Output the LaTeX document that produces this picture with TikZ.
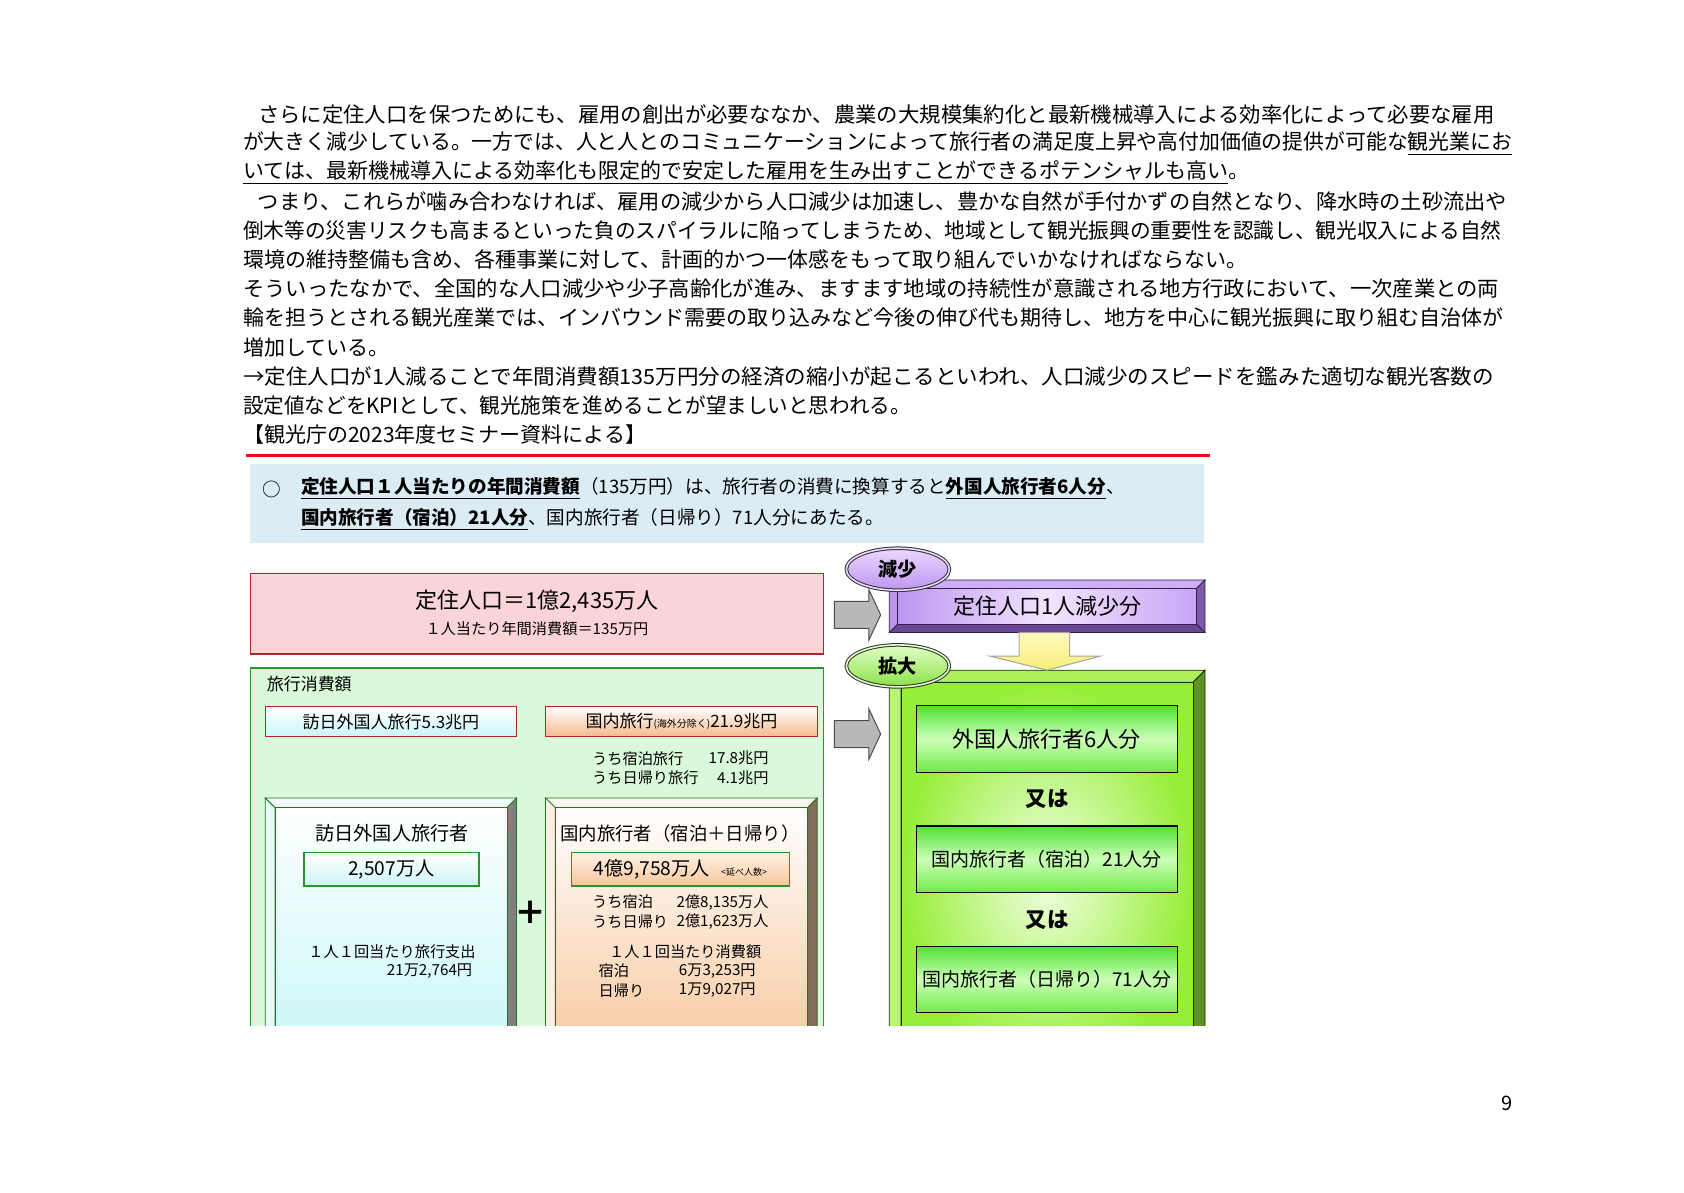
\documentclass[tikz,border=0pt]{standalone}
\usepackage{fontspec}
\setmainfont{Noto Sans CJK JP}
\usepackage{tikz}
\usetikzlibrary{positioning,fit,shapes.geometric}

\definecolor{redrule}{RGB}{220,20,20}
\definecolor{notefill}{RGB}{220,236,244}
\definecolor{popfill}{RGB}{250,212,216}
\definecolor{popdraw}{RGB}{170,40,40}
\definecolor{spendfill}{RGB}{218,248,218}
\definecolor{spenddraw}{RGB}{40,150,40}
\definecolor{cyanface}{RGB}{196,246,248}
\definecolor{peachface}{RGB}{248,196,150}
% bevel colours: T top, L left, R right, B bottom, O outline
\definecolor{cyanT}{RGB}{240,252,252}
\definecolor{cyanL}{RGB}{232,250,250}
\definecolor{cyanR}{RGB}{128,128,128}
\definecolor{cyanB}{RGB}{150,150,150}
\definecolor{cyanO}{RGB}{30,120,30}
\definecolor{peachT}{RGB}{252,246,238}
\definecolor{peachL}{RGB}{250,240,230}
\definecolor{peachR}{RGB}{128,110,90}
\definecolor{peachB}{RGB}{150,130,110}
\definecolor{peachO}{RGB}{30,120,30}
\definecolor{purpT}{RGB}{205,175,245}
\definecolor{purpL}{RGB}{185,150,235}
\definecolor{purpR}{RGB}{125,90,170}
\definecolor{purpB}{RGB}{105,70,150}
\definecolor{purpO}{RGB}{50,30,70}
\definecolor{limeT}{RGB}{175,240,90}
\definecolor{limeL}{RGB}{185,245,105}
\definecolor{limeR}{RGB}{95,145,35}
\definecolor{limeB}{RGB}{80,130,30}
\definecolor{limeO}{RGB}{20,50,10}

\newcommand{\bevelframe}[6]{%
  \filldraw[draw=#6O, fill=#6T] (#1,#2) -- (#3,#2) -- (#3-#5,#2+#5) -- (#1+#5,#2+#5) -- cycle;
  \filldraw[draw=#6O, fill=#6L] (#1,#2) -- (#1+#5,#2+#5) -- (#1+#5,#4-#5) -- (#1,#4) -- cycle;
  \filldraw[draw=#6O, fill=#6R] (#3,#2) -- (#3,#4) -- (#3-#5,#4-#5) -- (#3-#5,#2+#5) -- cycle;
  \filldraw[draw=#6O, fill=#6B] (#1,#4) -- (#3,#4) -- (#3-#5,#4-#5) -- (#1+#5,#4-#5) -- cycle;
}

\tikzset{
    paraline/.style={anchor=west, inner sep=0pt, font=\fontsize{10.5}{13}\selectfont},
    notetext/.style={anchor=west, inner sep=0pt, font=\fontsize{9.3}{11}\selectfont},
    plain/.style={inner sep=0pt, font=\fontsize{8.5}{10}\selectfont},
    small/.style={inner sep=0pt, font=\fontsize{7.6}{9}\selectfont},
    title/.style={inner sep=0pt, font=\fontsize{9.6}{11}\selectfont},
    big/.style={inner sep=0pt, font=\fontsize{11}{13}\selectfont},
    sumbox/.style={inner sep=0pt, draw=popdraw, line width=0.6pt},
    countbox/.style={inner sep=0pt, draw=spenddraw, line width=0.6pt},
    optionbox/.style={inner sep=0pt, draw=black, line width=0.6pt, top color={rgb,255:red,80;green,225;blue,50}, bottom color={rgb,255:red,110;green,235;blue,70}, middle color={rgb,255:red,205;green,255;blue,185}},
    badge/.style={ellipse, inner sep=0pt, minimum width=51.5pt, minimum height=21pt, draw=black!80, double distance=0.8pt, line width=0.5pt, font=\bfseries\fontsize{9.6}{11}\selectfont},
    grayarrow/.style={draw=black!70, fill=black!28, line width=0.5pt},
}

\begin{document}
\begin{tikzpicture}[x=0.537pt, y=-0.537pt]
\useasboundingbox (0,0) rectangle (1568,1110);

% text above the diagram
\foreach \y/\sx/\txt [count=\i] in {
  107/1.018/{\hspace*{0.7em}さらに定住人口を保つためにも、雇用の創出が必要ななか、農業の大規模集約化と最新機械導入による効率化によって必要な雇用},
  134/0.993/{が大きく減少している。一方では、人と人とのコミュニケーションによって旅行者の満足度上昇や高付加価値の提供が可能な\underline{観光業にお}},
  161/1/{\underline{いては、最新機械導入による効率化も限定的で安定した雇用を生み出すことができるポテンシャルも高い}。},
  188/1.01/{\hspace*{0.7em}つまり、これらが噛み合わなければ、雇用の減少から人口減少は加速し、豊かな自然が手付かずの自然となり、降水時の土砂流出や},
  215/0.984/{倒木等の災害リスクも高まるといった負のスパイラルに陥ってしまうため、地域として観光振興の重要性を認識し、観光収入による自然},
  242/1/{環境の維持整備も含め、各種事業に対して、計画的かつ一体感をもって取り組んでいかなければならない。},
  269/1.016/{そういったなかで、全国的な人口減少や少子高齢化が進み、ますます地域の持続性が意識される地方行政において、一次産業との両},
  296/1/{輪を担うとされる観光産業では、インバウンド需要の取り込みなど今後の伸び代も期待し、地方を中心に観光振興に取り組む自治体が},
  324/1/{増加している。},
  351/1.024/{→定住人口が1人減ることで年間消費額135万円分の経済の縮小が起こるといわれ、人口減少のスピードを鑑みた適切な観光客数の},
  378/0.98/{設定値などをKPIとして、観光施策を進めることが望ましいと思われる。},
  405/1/{【観光庁の2023年度セミナー資料による】}}
    \node[paraline] (line\i) at (226,\y) {\scalebox{\sx}[1]{\txt}};

\coordinate (rule west) at (229,424);
\coordinate (rule east) at (1127,424);
\draw[redrule, line width=1.6pt] (rule west) -- (rule east);

% summary note
\node[fill=notefill, inner sep=0pt, fit={(233,432)(1121,506)}] (note) {};
\node[notetext] (bullet) at (244,456) {○};
\node[notetext] (note1) at (280,455) {\textbf{\underline{定住人口１人当たりの年間消費額}}（135万円）は、旅行者の消費に換算すると\textbf{\underline{外国人旅行者6人分}}、};
\node[notetext] (note2) at (280,484) {\textbf{\underline{国内旅行者（宿泊）21人分}}、国内旅行者（日帰り）71人分にあたる。};

% resident population
\node[fill=popfill, draw=popdraw, line width=0.6pt, inner sep=0pt, fit={(233,534)(767,609)}] (pop) {};
\node[big] (popnum) at (500,560) {定住人口＝1億2,435万人};
\node[small] (popspend) at (500,585) {１人当たり年間消費額＝135万円};

\begin{scope}
\clip (0,0) rectangle (1568,955);
% travel spending
\node[fill=spendfill, draw=spenddraw, line width=0.6pt, inner sep=0pt, fit={(233,622)(767,1010)}] (spend) {};
\node[plain, anchor=west] (spendtitle) at (248,637) {旅行消費額};
\node[sumbox, top color=white, bottom color={rgb,255:red,200;green,245;blue,250}, fit={(247,658)(481,686)}] (inbound) {};
\node[plain] (inboundtext) at (inbound) {訪日外国人旅行5.3兆円};
\node[sumbox, top color=white, bottom color={rgb,255:red,245;green,185;blue,140}, fit={(508,658)(761,686)}] (domestic) {};
\node[plain] (domestictext) at (domestic) {国内旅行{\fontsize{5}{6}\selectfont (海外分除く)}21.9兆円};
\node[small, anchor=west] (stay) at (551,706) {うち宿泊旅行};
\node[small, anchor=east] (stayval) at (716,706) {17.8兆円};
\node[small, anchor=west] (day) at (551,724) {うち日帰り旅行};
\node[small, anchor=east] (dayval) at (716,724) {4.1兆円};

% foreign visitors
\bevelframe{247}{743}{481}{1010}{9}{cyan}
\node[draw=cyanO, inner sep=0pt, top color=white, bottom color=cyanface, fit={(256,752)(472,1001)}] (visface) {};
\node[title] (vistitle) at (365,776) {訪日外国人旅行者};
\node[countbox, top color=white, bottom color={rgb,255:red,205;green,245;blue,245}, fit={(283,794)(446,825)}] (viscount) {};
\node[title] (viscounttext) at (viscount) {2,507万人};
\node[small] (visspend) at (365,886) {１人１回当たり旅行支出};
\node[small, anchor=east] (visval) at (440,904) {21万2,764円};

\node[inner sep=0pt, font=\bfseries\fontsize{16}{16}\selectfont] (plus) at (494,850) {＋};

% domestic travellers
\bevelframe{508}{743}{761}{1010}{9}{peach}
\node[draw=peachO, inner sep=0pt, top color=white, bottom color=peachface, fit={(517,752)(752,1001)}] (domface) {};
\node[title, font=\fontsize{9.2}{11}\selectfont] (domtitle) at (633,776) {国内旅行者（宿泊＋日帰り）};
\node[countbox, top color={rgb,255:red,255;green,242;blue,228}, bottom color={rgb,255:red,248;green,198;blue,155}, fit={(532,794)(735,825)}] (domcount) {};
\node[title] (domcounttext) at (domcount) {4億9,758万人\hspace{0.6em}{\fontsize{4.5}{5}\selectfont <延べ人数>}};
\node[small, anchor=west] (domstay) at (551,840) {うち宿泊};
\node[small, anchor=east] (domstayval) at (716,840) {2億8,135万人};
\node[small, anchor=west] (domday) at (551,858) {うち日帰り};
\node[small, anchor=east] (domdayval) at (716,858) {2億1,623万人};
\node[small] (domspend) at (638,886) {１人１回当たり消費額};
\node[small, anchor=west] (stayspend) at (557,904) {宿泊};
\node[small, anchor=east] (stayspendval) at (704,904) {6万3,253円};
\node[small, anchor=west] (dayspend) at (557,922) {日帰り};
\node[small, anchor=east] (dayspendval) at (704,922) {1万9,027円};

% equivalent visitors
\bevelframe{828}{624}{1122}{1010}{11}{lime}
\node[draw=limeO, inner sep=0pt, inner color={rgb,255:red,240;green,255;blue,225}, outer color={rgb,255:red,150;green,238;blue,55}, fit={(839,635)(1111,1000)}] (gainface) {};
\foreach \t/\fs/\txt [count=\k] in {657/11/{外国人旅行者6人分}, 769/9.5/{国内旅行者（宿泊）21人分}, 881/9.5/{国内旅行者（日帰り）71人分}} {
    \node[optionbox, fit={(853,\t)(1096,\t+62)}] (option\k) {};
    \node[inner sep=0pt, font=\fontsize{\fs}{13}\selectfont] (optiontext\k) at (option\k) {\txt};
}
\node[inner sep=0pt, font=\bfseries\fontsize{10.7}{12}\selectfont] (or1) at (975,744) {又は};
\node[inner sep=0pt, font=\bfseries\fontsize{10.7}{12}\selectfont] (or2) at (975,857) {又は};
\end{scope}

% one resident less
\bevelframe{828}{540}{1122}{589}{8}{purp}
\node[draw=purpO, inner sep=0pt, left color={rgb,255:red,190;green,150;blue,240}, right color={rgb,255:red,200;green,165;blue,245}, middle color={rgb,255:red,242;green,228;blue,255}, fit={(836,548)(1114,581)}] (cut) {};
\node[big] (cuttext) at (cut) {定住人口1人減少分};

% block arrows
\coordinate (arrow1) at (777,560);
\filldraw[grayarrow] (arrow1) -- ++(32,0) -- ++(0,-11) -- ++(11,23.5) -- ++(-11,23.5) -- ++(0,-11) -- ++(-32,0) -- cycle;
\coordinate (arrow2) at (777,671);
\filldraw[grayarrow] (arrow2) -- ++(32,0) -- ++(0,-11) -- ++(11,23.5) -- ++(-11,23.5) -- ++(0,-11) -- ++(-32,0) -- cycle;
\coordinate (down) at (949,589);
\filldraw[draw=black!35, line width=0.5pt, top color={rgb,255:red,255;green,250;blue,190}, bottom color={rgb,255:red,248;green,238;blue,120}] (down) -- ++(47,0) -- ++(0,22) -- ++(28,0) -- ++(-49,13) -- ++(-53,-13) -- ++(27,0) -- cycle;

% badges
\node[badge, double={rgb,255:red,235;green,215;blue,255}, top color={rgb,255:red,235;green,215;blue,255}, bottom color={rgb,255:red,190;green,150;blue,240}] (cutbadge) at (836,530) {減少};
\node[badge, double={rgb,255:red,225;green,255;blue,200}, top color={rgb,255:red,225;green,255;blue,200}, bottom color={rgb,255:red,140;green,225;blue,70}] (gainbadge) at (836,620) {拡大};

\node[inner sep=0pt, font=\fontsize{10}{12}\selectfont] (pageno) at (1403,1027) {9};
\end{tikzpicture}
\end{document}
